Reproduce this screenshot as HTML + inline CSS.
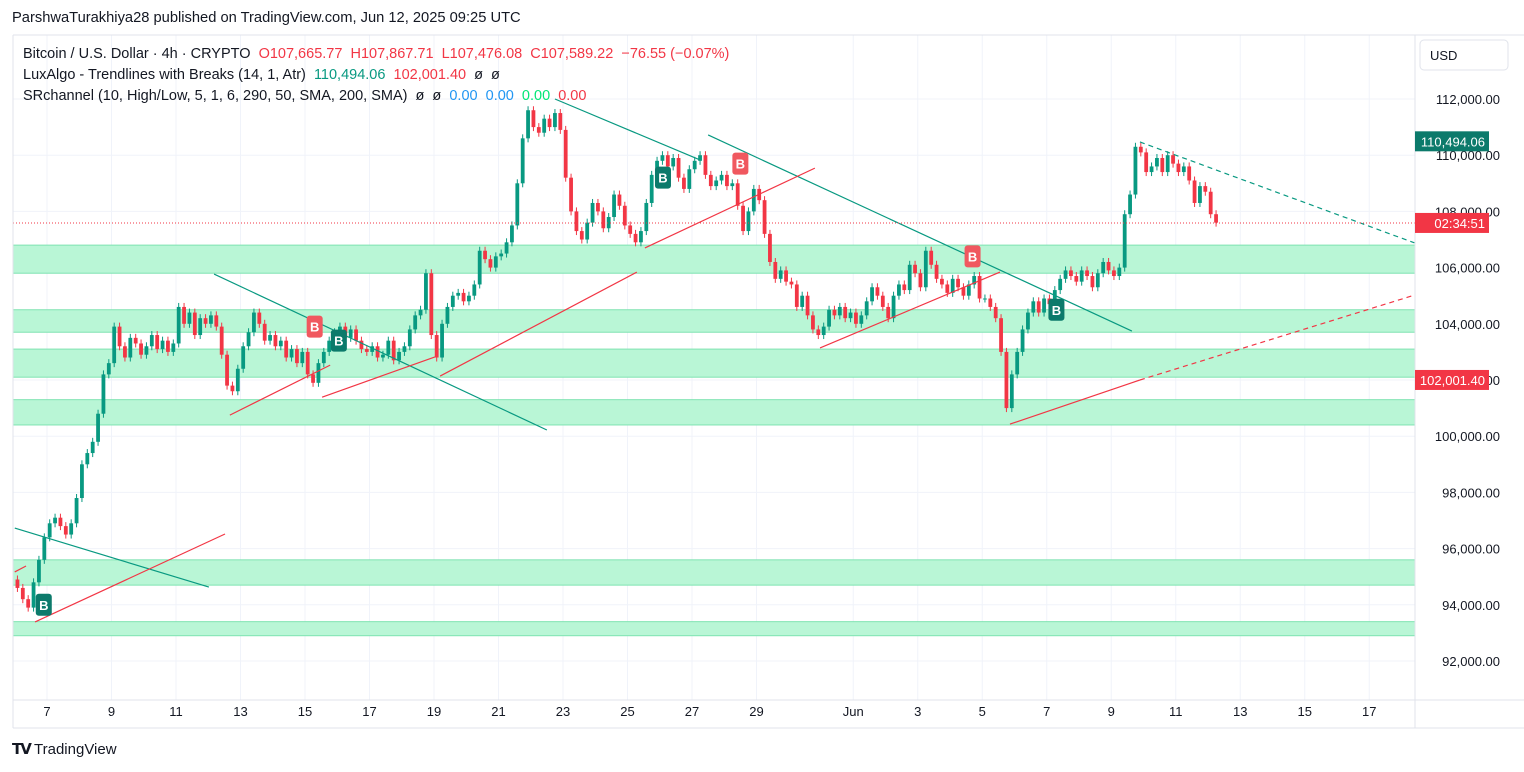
<!DOCTYPE html>
<html><head><meta charset="utf-8">
<style>
body{margin:0;background:#fff;font-family:"Liberation Sans",sans-serif;}
#wrap{position:relative;width:1524px;height:772px;overflow:hidden;}
svg text{font-family:"Liberation Sans",sans-serif;}
</style></head>
<body>
<div id="wrap">
<svg id="chart" width="1524" height="772"></svg>
</div>
<script>
// ---- data ----
const closesK = [
94.6,94.2,93.9,94.8,95.6,96.4, 96.9,97.1,96.8,96.5,96.9,97.8, 99.0,99.4,99.8,100.8,102.2,102.6,
103.9,103.2,102.8,103.5,103.3,102.9, 103.2,103.6,103.1,103.4,103.0,103.3, 104.6,104.0,104.4,103.6,104.2,104.0,
104.3,103.9,102.9,101.8,101.6,102.4, 103.2,103.7,104.4,104.0,103.4,103.6, 103.2,103.4,102.8,103.1,102.6,103.0,
102.2,101.9,102.6,103.0,103.4,103.7, 103.9,103.5,103.8,103.4,103.1,103.0, 103.2,102.8,102.9,103.4,102.7,103.0,
103.2,103.8,104.3,104.5,105.8,103.6, 102.8,104.0,104.6,105.0,105.1,104.8, 105.0,105.4,106.6,106.3,106.0,106.4,
106.5,106.9,107.5,109.0,110.6,111.6, 111.0,110.8,111.3,111.0,111.5,110.9, 109.2,108.0,107.3,107.0,107.6,108.3,
108.0,107.4,107.8,108.6,108.2,107.5, 107.2,106.9,107.3,108.3,109.3,109.8, 110.0,109.6,109.9,109.2,108.8,109.5,
109.8,110.0,109.3,108.9,109.1,109.3, 108.9,109.0,108.2,107.3,108.0,108.8, 108.4,107.2,106.2,105.6,105.9,105.5,
105.4,104.6,105.0,104.3,103.8,103.6, 103.9,104.5,104.3,104.6,104.2,104.4, 104.0,104.3,104.8,105.3,105.0,104.6,
104.2,105.0,105.4,105.2,106.1,105.8, 105.3,106.6,106.1,105.6,105.4,105.1, 105.6,105.3,105.0,105.4,105.7,104.9,
104.9,104.6,104.2,103.0,101.0,102.2, 103.0,103.8,104.4,104.8,104.4,104.9, 104.7,105.2,105.6,105.9,105.7,105.5,
105.9,105.7,105.3,105.8,106.2,105.9, 105.7,106.0,107.9,108.6,110.3,110.1, 109.4,109.6,109.9,109.4,110.0,109.7,
109.4,109.6,109.1,108.3,108.9,108.7, 107.9,107.6
];
const firstOpenK = 94.9;
const yTicks = [112000,110000,108000,106000,104000,102000,100000,98000,96000,94000,92000];
const xTickLabels = ["7","9","11","13","15","17","19","21","23","25","27","29","Jun","3","5","7","9","11","13","15","17"];
const xTickDays = [1,3,5,7,9,11,13,15,17,19,21,23,26,28,30,32,34,36,38,40,42];
const zonesK = [[106.8,105.8],[104.5,103.7],[103.1,102.1],[101.3,100.4],[95.6,94.7],[93.4,92.9]];
const tealLines = [[[0,96.73],[6.02,94.63]],[[6.18,105.77],[16.5,100.22]],[[16.75,112.0],[21.25,109.83]],[[21.5,110.72],[34.64,103.74]]];
const redLines = [[[0,95.17],[0.35,95.38]],[[0.63,93.39],[6.52,96.52]],[[6.67,100.75],[9.78,102.53]],[[9.53,101.39],[13.03,102.82]],[[13.19,102.14],[19.29,105.84]],[[19.54,106.7],[24.81,109.54]],[[24.97,103.14],[30.55,105.84]],[[30.86,100.43],[34.89,102.0]]];
const redDash = [[34.89,102.0],[43.4,105.02]];
const tealDash = [[34.89,110.47],[43.4,106.88]];
const buyLabels = [[0.9,94.0],[20.1,109.2],[10.05,103.4],[32.3,104.5]];
const sellLabels = [[9.3,103.9],[22.5,109.7],[29.7,106.4]];
const lastPrice = 107589.22, upperLine = 110494.06, lowerLine = 102001.40;

// ---- scales ----
const X = d => 14.75 + d*32.25;
const Y = p => 99 + (112000 - p)/1000*28.1;
const svg = document.getElementById('chart');
const NS='http://www.w3.org/2000/svg';
function mk(tag,attrs,parent){const e=document.createElementNS(NS,tag);for(const k in attrs)e.setAttribute(k,attrs[k]);(parent||svg).appendChild(e);return e;}
const fmt = v => v.toLocaleString('en-US',{minimumFractionDigits:2,maximumFractionDigits:2});

// grid
const grid = mk('g',{});


yTicks.forEach(t=>mk('line',{x1:13,x2:1415,y1:Y(t),y2:Y(t),stroke:'#f0f3fa'},grid));
xTickDays.forEach(d=>mk('line',{x1:X(d),x2:X(d),y1:35,y2:700,stroke:'#f0f3fa'},grid));

// zones
zonesK.forEach((z,i)=>{
  const r=mk('rect',{x:13,y:Y(z[0]*1000),width:1402,height:Y(z[1]*1000)-Y(z[0]*1000),fill:'#b9f6d6',stroke:'#7ee3b1','stroke-width':1});
  
  
});

// candles
const cg = mk('g',{});


let prev = firstOpenK;
closesK.forEach((c,i)=>{
  const o=prev, d=i/6+1/12, x=X(d);
  const up=c>=o, col=up?'#089981':'#f23645';
  const yT=Y(Math.max(o,c)*1000), yB=Y(Math.min(o,c)*1000);
  mk('line',{x1:x,x2:x,y1:yT-4,y2:yB+4,stroke:col,'stroke-width':1},cg);
  const b=mk('rect',{x:x-1.9,y:yT,width:3.8,height:Math.max(1,yB-yT),fill:col},cg);
  
  
  prev=c;
});

// trendlines
function seg(p,col,dash,name){
  const l=mk('line',{x1:X(p[0][0]),y1:Y(p[0][1]*1000),x2:X(p[1][0]),y2:Y(p[1][1]*1000),stroke:col,'stroke-width':1.2});
  if(dash)l.setAttribute('stroke-dasharray','5,4');
  
  
}
tealLines.forEach(p=>seg(p,'#089981',false,'trendline-down'));
redLines.forEach(p=>seg(p,'#f23645',false,'trendline-up'));
seg(redDash,'#f23645',true,'trendline-up-projection');
seg(tealDash,'#089981',true,'trendline-down-projection');

// break labels
function lab(p,col,name){
  const x=X(p[0]),y=Y(p[1]*1000);
  const g=mk('g',{});
  
  
  mk('rect',{x:x-8,y:y-11,width:16,height:22,rx:3,fill:col},g);
  const t=mk('text',{x:x,y:y+5,'text-anchor':'middle','font-size':13,'font-weight':'bold',fill:'#fff'},g);
  t.textContent='B';
}
buyLabels.forEach(p=>lab(p,'#0c7a6b','break-label-buy'));
sellLabels.forEach(p=>lab(p,'#f0585f','break-label-sell'));

// last price line
const lp=mk('line',{x1:13,x2:1415,y1:Y(lastPrice),y2:Y(lastPrice),stroke:'#f23645','stroke-dasharray':'1,2'});



// axes
mk('line',{x1:1415,x2:1415,y1:35,y2:728,stroke:'#e0e3eb'});
mk('line',{x1:13,x2:1524,y1:700,y2:700,stroke:'#e0e3eb'});
mk('line',{x1:13,x2:1524,y1:35,y2:35,stroke:'#e0e3eb'});
mk('line',{x1:13,x2:1524,y1:728,y2:728,stroke:'#e0e3eb'});
mk('line',{x1:13,x2:13,y1:35,y2:728,stroke:'#e0e3eb'});
yTicks.forEach(t=>{
  const e=mk('text',{x:1500,y:Y(t)+5,'text-anchor':'end','font-size':13,fill:'#131722'});
  e.textContent=fmt(t);
  
  
});
xTickDays.forEach((d,i)=>{
  const e=mk('text',{x:X(d),y:716,'text-anchor':'middle','font-size':13,fill:'#131722'});
  e.textContent=xTickLabels[i];
  
  
});
// price tags
function tag(p,txt,col,name){
  const y=Y(p);
  const g=mk('g',{});
  
  
  mk('rect',{x:1415,y:y-10,width:74,height:20,fill:col},g);
  const t=mk('text',{x:1485,y:y+5,'text-anchor':'end','font-size':13,fill:'#fff'},g);
  t.textContent=txt;
}
tag(upperLine,fmt(upperLine),'#0c7a6b','upper-trend-tag');
tag(lastPrice,'02:34:51','#f23645','countdown-tag');
tag(lowerLine,fmt(lowerLine),'#f23645','lower-trend-tag');
// USD button
const ub=mk('rect',{x:1420,y:40,width:88,height:30,rx:4,fill:'#fff',stroke:'#e0e3eb'});


const ut=mk('text',{x:1430,y:60,'font-size':13,fill:'#131722'});ut.textContent='USD';
</script>
<div style="position:absolute;left:12px;top:10px;font-size:14.7px;color:#131722">ParshwaTurakhiya28 published on TradingView.com, Jun 12, 2025 09:25 UTC</div>
<div style="position:absolute;left:23px;top:44px;font-size:14.5px;color:#131722;line-height:21px">
<div>Bitcoin / U.S. Dollar · 4h · CRYPTO &nbsp;<span style="color:#f23645">O107,665.77 &nbsp;H107,867.71 &nbsp;L107,476.08 &nbsp;C107,589.22 &nbsp;−76.55 (−0.07%)</span></div>
<div>LuxAlgo - Trendlines with Breaks (14, 1, Atr) &nbsp;<span style="color:#089981">110,494.06</span> &nbsp;<span style="color:#f23645">102,001.40</span> &nbsp;ø &nbsp;ø</div>
<div>SRchannel (10, High/Low, 5, 1, 6, 290, 50, SMA, 200, SMA) &nbsp;ø &nbsp;ø &nbsp;<span style="color:#2196f3">0.00 &nbsp;0.00</span> &nbsp;<span style="color:#00e676">0.00</span> &nbsp;<span style="color:#f23645">0.00</span></div>
</div>
<div style="position:absolute;left:12px;top:740px;font-size:15px;color:#131722;font-weight:bold"><span style="font-size:15px;letter-spacing:-2px">𝗧𝗩</span> <span style="font-weight:normal">TradingView</span></div>
</body></html>
